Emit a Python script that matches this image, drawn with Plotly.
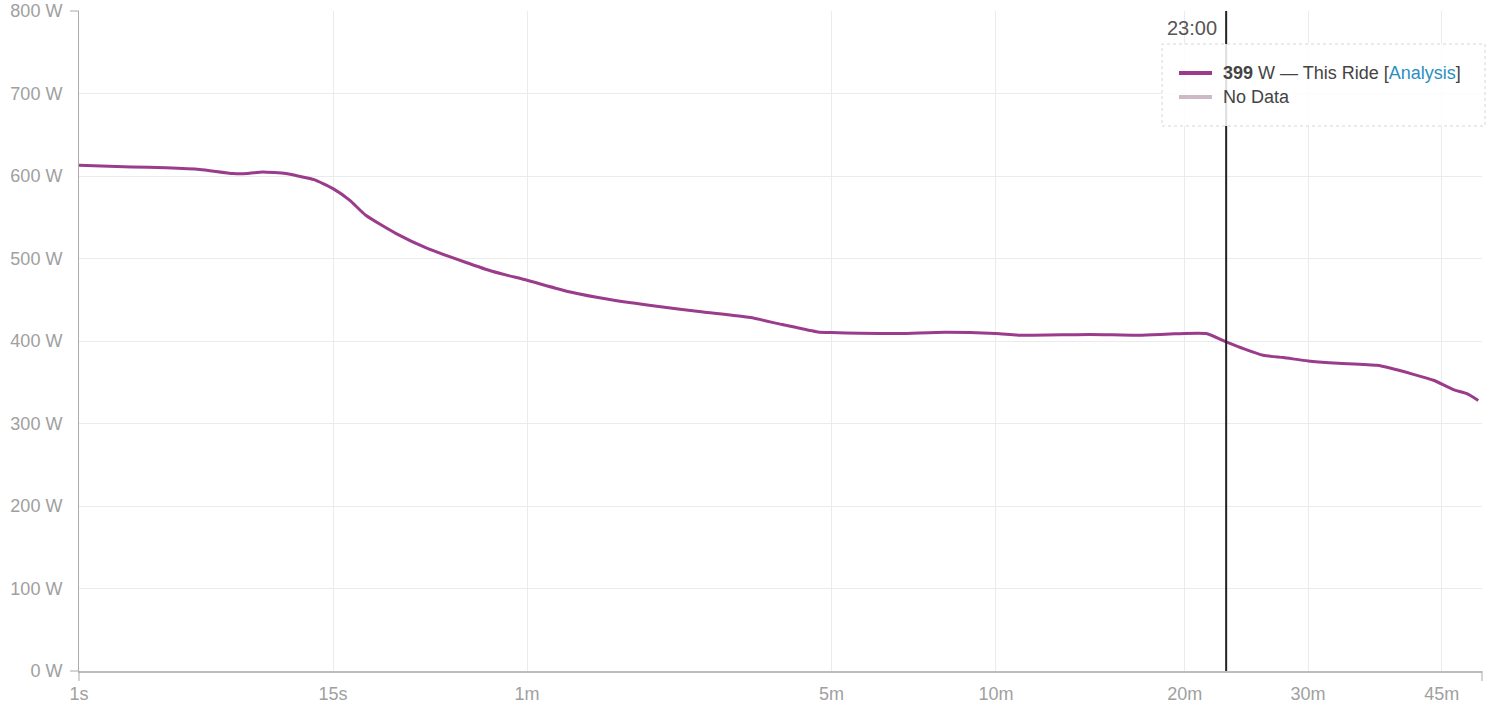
import plotly.graph_objects as go

# ---- data ----
durations_s = [1, 2, 3, 4.35, 6.1, 7, 8.1, 10, 11.3, 12.8, 15, 17.2, 19.5, 24.6, 31, 40, 48, 60,
               78, 98, 127, 162, 205, 239, 282, 300, 340, 405, 489, 600, 660, 857, 1024, 1159,
               1290, 1380, 1461, 1559, 1664, 1800, 1948, 2226, 2317, 2485, 2636, 2793, 2904, 3000]
watts = [613, 611, 610, 608, 603, 603, 605, 603, 599.6, 595.6, 584.7, 570.5, 552.4, 530.2, 512,
         495.8, 484.5, 473.6, 459.4, 450.2, 442, 435.2, 428.4, 419.9, 410.9, 410.2, 409.3, 409,
         410.5, 409, 407, 408, 407, 408.7, 409, 399, 390.8, 382.7, 379.9, 375.8, 373.3, 370.5,
         367.3, 359.6, 352.4, 341.1, 336.2, 328]

tick_seconds = [1, 15, 60, 300, 600, 1200, 1800, 2700]
tick_labels = ["1s", "15s", "1m", "5m", "10m", "20m", "30m", "45m"]
y_ticks = [0, 100, 200, 300, 400, 500, 600, 700, 800]
y_labels = [f"{v} W" for v in y_ticks]

axis_max_s = 3032
cursor_s = 1380
cursor_label = "23:00"
cursor_watts = 399
series_name = "This Ride"

EXP = 0.2  # power-scale exponent of the duration axis


def sx(t):
    return t ** EXP


LINE_COLOR = "#9b3b8b"
FONT = "Liberation Sans, Arial, sans-serif"

FIG_W, FIG_H = 1512, 727
ML, MR, MT, MB = 79, 30, 11, 56
PW = FIG_W - ML - MR
PH = FIG_H - MT - MB

fig = go.Figure()
fig.add_trace(go.Scatter(
    x=[sx(t) for t in durations_s], y=watts, mode="lines",
    line=dict(color=LINE_COLOR, width=3, shape="spline", smoothing=0.5),
    hoverinfo="skip", showlegend=False))

fig.update_layout(
    template="none",
    width=FIG_W, height=FIG_H,
    margin=dict(l=ML, r=MR, t=MT, b=MB, autoexpand=False),
    paper_bgcolor="white", plot_bgcolor="white",
    font=dict(family=FONT, size=18, color="#a0a0a0"),
    showlegend=False,
    xaxis=dict(range=[sx(1), sx(axis_max_s)], tickvals=[sx(t) for t in tick_seconds],
               ticktext=tick_labels, showgrid=True, gridcolor="#ebebeb", gridwidth=1,
               zeroline=False, showline=True, linecolor="#bdbdbd", linewidth=2,
               ticks="", ticklabelstandoff=5, automargin=False,
               tickfont=dict(size=18, color="#a0a0a0")),
    yaxis=dict(range=[0, 800], tickvals=y_ticks, ticktext=y_labels, showgrid=True,
               gridcolor="#ebebeb", gridwidth=1, zeroline=False, showline=True,
               linecolor="#aaaaaa", linewidth=1, ticks="", ticklabelstandoff=12,
               automargin=False, tickfont=dict(size=18, color="#a0a0a0")),
)

# outer ticks of the axis domains
for yv in (0, 1):
    fig.add_shape(type="line", xref="paper", yref="paper", x0=0, x1=-9 / PW, y0=yv, y1=yv,
                  line=dict(color="#aaaaaa", width=1))
for xv in (0, 1):
    fig.add_shape(type="line", xref="paper", yref="paper", x0=xv, x1=xv, y0=0, y1=-10 / PH,
                  line=dict(color="#aaaaaa", width=1))

OX, OY = ML, MT  # screen position of plot-area origin


def px_x(p):
    return (p - OX) / PW


def px_y(p):
    return 1 - (p - OY) / PH


# crosshair (drawn under the semi-transparent legend box)
fig.add_shape(type="line", xref="x", yref="paper", x0=sx(cursor_s), x1=sx(cursor_s), y0=0, y1=1,
              line=dict(color="#222222", width=2), layer="above")
fig.add_annotation(xref="x", yref="paper", x=sx(cursor_s), y=px_y(28), xanchor="right",
                   yanchor="middle", xshift=-7, showarrow=False, text=cursor_label,
                   font=dict(family=FONT, size=20, color="#555555"))

# legend box
fig.add_shape(type="rect", xref="paper", yref="paper", layer="above",
              x0=px_x(1162), x1=px_x(1485), y0=px_y(126), y1=px_y(44),
              line=dict(color="#d6d6d6", width=1, dash="dot"),
              fillcolor="rgba(255,255,255,0.85)")
fig.add_shape(type="line", xref="paper", yref="paper", x0=px_x(1179), x1=px_x(1212),
              y0=px_y(73), y1=px_y(73), line=dict(color=LINE_COLOR, width=4), layer="above")
fig.add_shape(type="line", xref="paper", yref="paper", x0=px_x(1179), x1=px_x(1212),
              y0=px_y(97), y1=px_y(97), line=dict(color="#cdb8c8", width=4), layer="above")
fig.add_annotation(xref="paper", yref="paper", x=px_x(1221), y=px_y(73), xanchor="left",
                   yanchor="middle", showarrow=False,
                   text=f"<b>{cursor_watts}</b> W — {series_name} [<span style='color:#2b8fc3'>Analysis</span>]",
                   font=dict(family=FONT, size=18, color="#444444"))
fig.add_annotation(xref="paper", yref="paper", x=px_x(1221), y=px_y(97), xanchor="left",
                   yanchor="middle", showarrow=False, text="No Data",
                   font=dict(family=FONT, size=18, color="#444444"))

fig.write_html("out.html", config={"displayModeBar": False},
               post_script="document.body.style.margin='0px';")
